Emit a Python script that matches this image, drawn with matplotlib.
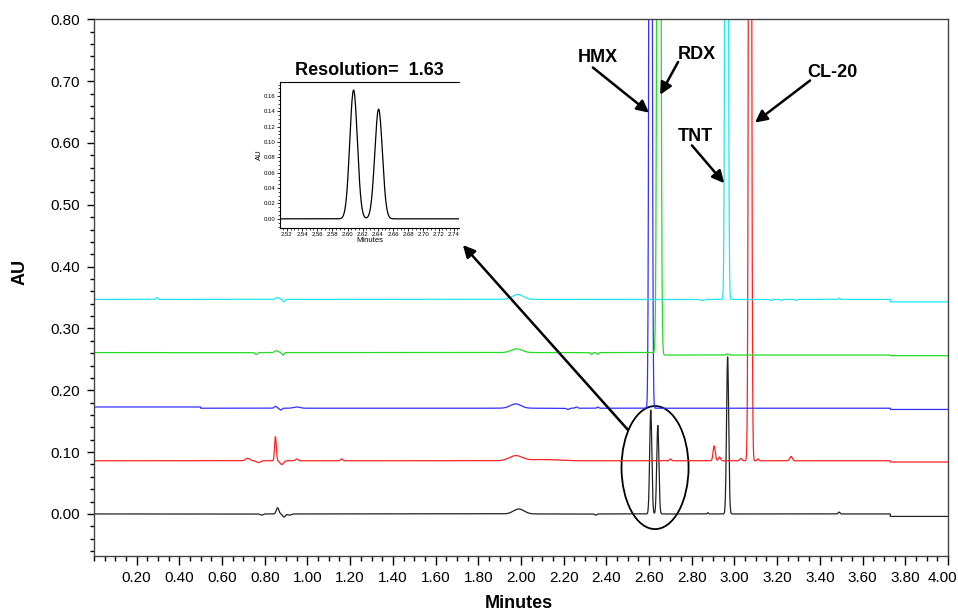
import matplotlib.pyplot as plt
import numpy as np
from matplotlib.patches import Ellipse
from matplotlib.ticker import MultipleLocator, FormatStrFormatter
from matplotlib.transforms import ScaledTranslation

plt.rcParams['font.family'] = ['Liberation Sans', 'DejaVu Sans']

# run time (minutes)
t = np.arange(0.0, 4.0005, 0.0005)

# baseline level of each trace (AU)
mix_base = 0.0
cl20_base = 0.086
hmx_base = 0.173
rdx_base = 0.261
tnt_base = 0.347

# peaks: (retention time min, height AU, sigma min)
mix_peaks = [(0.785, -0.002, 0.006), (0.86, 0.010, 0.006), (0.89, -0.005, 0.006),
             (0.915, -0.002, 0.008), (1.99, 0.008, 0.025), (2.35, -0.002, 0.005),
             (2.608, 0.168, 0.005), (2.641, 0.143, 0.005), (2.875, 0.002, 0.003),
             (2.968, 0.254, 0.005), (3.49, 0.003, 0.004)]
cl20_peaks = [(0.72, 0.004, 0.010), (0.77, -0.003, 0.008), (0.85, 0.039, 0.004),
              (0.88, -0.006, 0.008), (0.95, 0.003, 0.006), (1.16, 0.003, 0.005),
              (1.975, 0.008, 0.030), (2.10, 0.002, 0.070), (2.70, 0.003, 0.004),
              (2.905, 0.024, 0.005), (2.93, 0.006, 0.005), (3.03, 0.004, 0.005),
              (3.073, 2.8, 0.005), (3.11, 0.003, 0.004), (3.265, 0.007, 0.006)]
hmx_peaks = [(0.85, 0.003, 0.006), (0.875, -0.003, 0.005), (0.95, 0.002, 0.015),
             (1.975, 0.007, 0.025), (2.22, -0.002, 0.006), (2.26, 0.002, 0.005),
             (2.36, 0.002, 0.004), (2.607, 2.9, 0.005)]
rdx_peaks = [(0.76, -0.003, 0.006), (0.855, 0.003, 0.008), (0.885, -0.004, 0.005),
             (1.98, 0.006, 0.025), (2.33, -0.003, 0.004), (2.36, -0.003, 0.004),
             (2.646, 2.9, 0.006), (2.968, 0.002, 0.004)]
tnt_peaks = [(0.295, 0.003, 0.004), (0.86, 0.003, 0.008), (0.89, -0.004, 0.005),
             (1.985, 0.008, 0.025), (2.85, -0.002, 0.008), (2.963, 2.9, 0.005),
             (3.17, -0.002, 0.004), (3.22, -0.002, 0.004), (3.29, -0.002, 0.004),
             (3.49, 0.002, 0.004)]

# baseline shifts: (time min, change AU)
mix_steps = [(3.73, -0.004)]
cl20_steps = [(3.73, -0.002)]
hmx_steps = [(0.50, -0.002), (3.73, -0.002)]
rdx_steps = [(2.66, -0.004), (3.73, -0.001)]
tnt_steps = [(3.73, -0.004)]


def trace(base, peaks, steps):
    y = np.full_like(t, base)
    for rt, h, s in peaks:
        y += h * np.exp(-0.5 * ((t - rt) / s) ** 2)
    for ts, d in steps:
        y += d * (t >= ts)
    return y


mix = trace(mix_base, mix_peaks, mix_steps)
cl20 = trace(cl20_base, cl20_peaks, cl20_steps)
hmx = trace(hmx_base, hmx_peaks, hmx_steps)
rdx = trace(rdx_base, rdx_peaks, rdx_steps)
tnt = trace(tnt_base, tnt_peaks, tnt_steps)

fig = plt.figure(figsize=(9.58, 6.13), dpi=100)
ax = fig.add_axes([0.0981, 0.0930, 0.8914, 0.8755])

ax.plot(t, mix, color='#222222', lw=0.9)
ax.plot(t, cl20, color='#ff2020', lw=0.9)
ax.plot(t, hmx, color='#3030ff', lw=0.9)
ax.plot(t, rdx, color='#22dd22', lw=0.9)
ax.plot(t, tnt, color='#1ee8f5', lw=0.9)

ax.set_xlim(0.0, 4.0)
ax.set_ylim(-0.068, 0.80)
ax.set_xticks(np.arange(0.2, 4.01, 0.2))
ax.xaxis.set_minor_locator(MultipleLocator(0.05))
ax.set_yticks(np.arange(0.0, 0.81, 0.1))
ax.yaxis.set_minor_locator(MultipleLocator(0.02))
ax.xaxis.set_major_formatter(FormatStrFormatter('%.2f'))
ax.yaxis.set_major_formatter(FormatStrFormatter('%.2f'))
ax.tick_params(axis='x', which='major', direction='out', length=6.5, width=1, pad=4.5, labelsize=11)
ax.tick_params(axis='x', which='minor', direction='out', length=3.5, width=1)
ax.tick_params(axis='y', which='major', direction='out', length=5, width=1, pad=5, labelsize=11)
ax.tick_params(axis='y', which='minor', direction='out', length=3, width=1)
for sp in ax.spines.values():
    sp.set_color('#444444')
    sp.set_linewidth(1)

# keep the last time label inside the figure edge
last = ax.get_xticklabels()[-1]
last.set_transform(last.get_transform() + ScaledTranslation(-6 / 100, 0, fig.dpi_scale_trans))

fig.text(519 / 958, 1 - 603 / 613, 'Minutes', ha='center', va='center',
         fontsize=13, fontweight='bold')
fig.text(20 / 958, 1 - 272 / 613, 'AU', ha='center', va='center', rotation=90,
         fontsize=13, fontweight='bold')

# peak labels
arrow = dict(arrowstyle='-|>', lw=1.8, color='black', mutation_scale=18,
             shrinkA=0, shrinkB=0)
ax.annotate('', xy=(2.60, 0.649), xytext=(2.337, 0.722), arrowprops=arrow)
ax.text(2.36, 0.738, 'HMX', ha='center', va='center', fontsize=13, fontweight='bold')
ax.annotate('', xy=(2.652, 0.678), xytext=(2.736, 0.731), arrowprops=arrow)
ax.text(2.824, 0.743, 'RDX', ha='center', va='center', fontsize=13, fontweight='bold')
ax.annotate('', xy=(2.952, 0.535), xytext=(2.801, 0.596), arrowprops=arrow)
ax.text(2.815, 0.611, 'TNT', ha='center', va='center', fontsize=13, fontweight='bold')
ax.annotate('', xy=(3.096, 0.633), xytext=(3.354, 0.701), arrowprops=arrow)
ax.text(3.457, 0.714, 'CL-20', ha='center', va='center', fontsize=13, fontweight='bold')

# circled HMX/RDX pair and pointer to the zoomed view
ax.add_patch(Ellipse((2.628, 0.075), 0.314, 0.199, fill=False, lw=1.3, color='black'))
ax.annotate('', xy=(1.728, 0.435), xytext=(2.501, 0.136), arrowprops=arrow)

# zoomed view of the HMX/RDX separation
ax_in = fig.add_axes([0.2923, 0.628, 0.1868, 0.2377])
ax_in.plot(t, mix, color='black', lw=0.9)
ax_in.set_xlim(2.511, 2.747)
ax_in.set_ylim(-0.012, 0.178)
ax_in.spines['right'].set_visible(False)
for sp in ax_in.spines.values():
    sp.set_linewidth(0.8)
ax_in.set_xticks(np.arange(2.52, 2.741, 0.02))
ax_in.xaxis.set_minor_locator(MultipleLocator(0.005))
ax_in.set_yticks(np.arange(0.0, 0.161, 0.02))
ax_in.yaxis.set_minor_locator(MultipleLocator(0.005))
ax_in.xaxis.set_major_formatter(FormatStrFormatter('%.2f'))
ax_in.yaxis.set_major_formatter(FormatStrFormatter('%.2f'))
ax_in.tick_params(which='major', direction='out', length=2, width=0.6, pad=1, labelsize=4.3)
ax_in.tick_params(which='minor', direction='out', length=1.2, width=0.5)
ax_in.set_xlabel('Minutes', fontsize=5.5, labelpad=0)
ax_in.set_ylabel('AU', fontsize=5.5, labelpad=1)
ax_in.set_title('Resolution=  1.63', fontsize=13, fontweight='bold', pad=5)

fig.savefig('out.png', dpi=100)
